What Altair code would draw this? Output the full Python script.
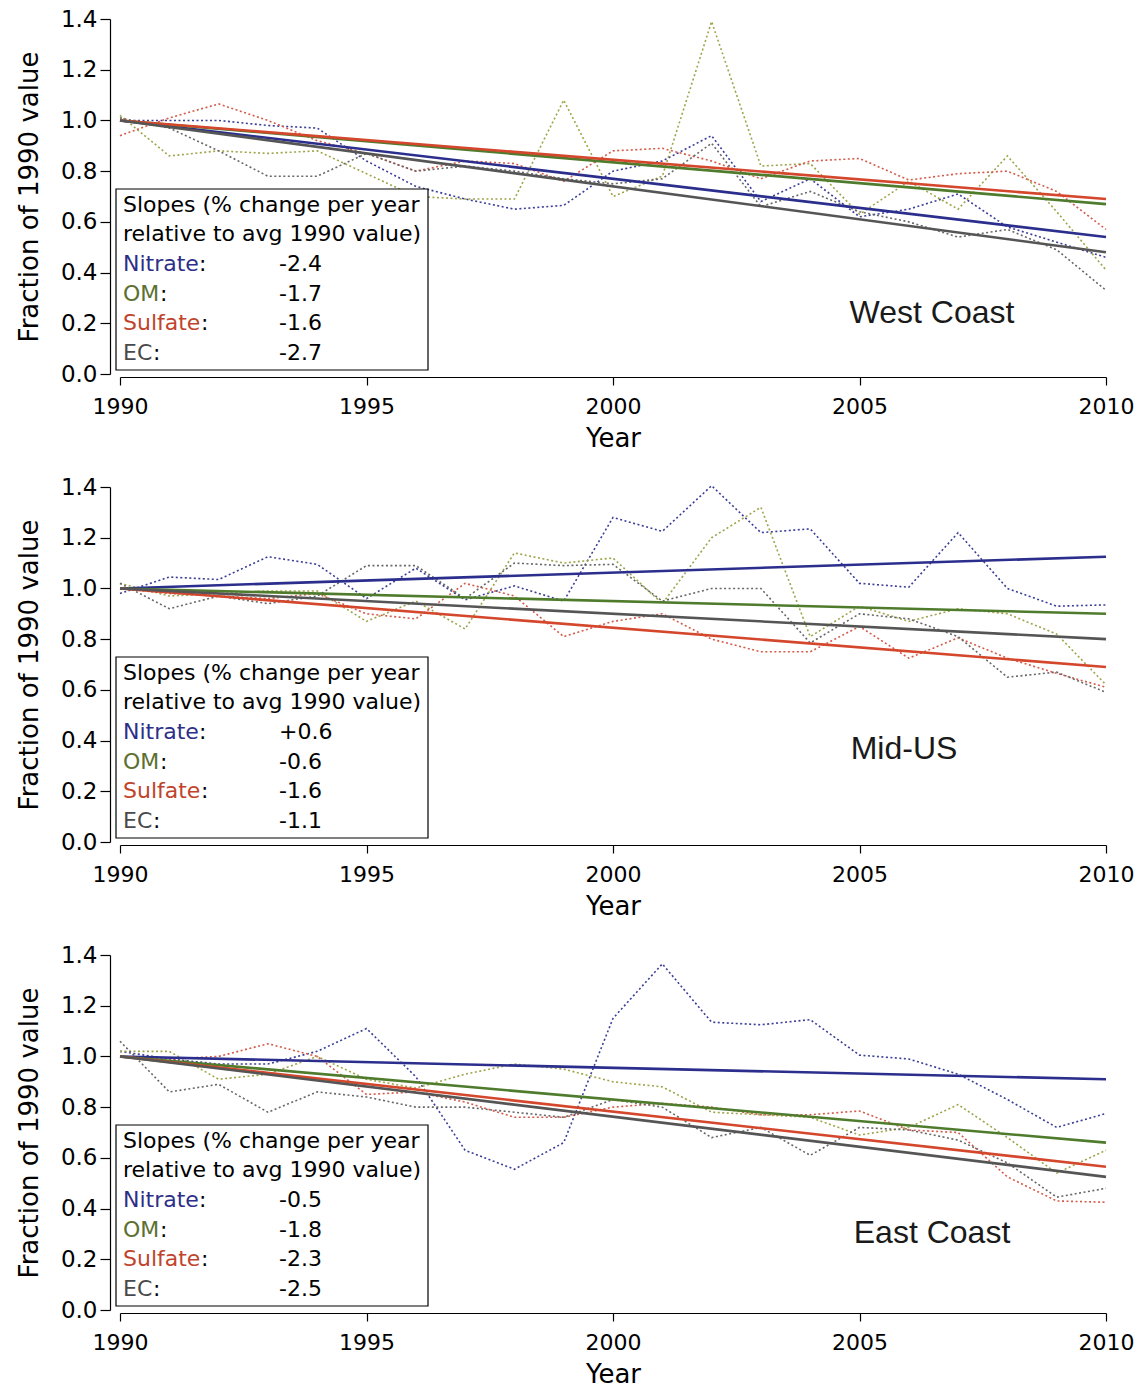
import altair as alt
import pandas as pd

# ---------------- data ----------------
years = list(range(1990, 2011))
species = ["Nitrate", "OM", "Sulfate", "EC"]
regions = ["West Coast", "Mid-US", "East Coast"]

# West Coast annual fractions of 1990 value (dotted lines)
west_nitrate = [1.00, 1.00, 1.00, 0.98, 0.97, 0.84, 0.74, 0.69, 0.65, 0.665, 0.80, 0.84, 0.94, 0.68, 0.77, 0.62, 0.65, 0.71, 0.58, 0.52, 0.46]
west_om = [1.02, 0.86, 0.88, 0.87, 0.88, 0.79, 0.70, 0.69, 0.69, 1.08, 0.70, 0.78, 1.39, 0.82, 0.83, 0.63, 0.76, 0.65, 0.86, 0.64, 0.41]
west_sulfate = [0.94, 1.01, 1.065, 1.00, 0.92, 0.87, 0.80, 0.84, 0.83, 0.76, 0.88, 0.89, 0.84, 0.77, 0.84, 0.85, 0.765, 0.79, 0.80, 0.72, 0.57]
west_ec = [1.01, 0.97, 0.88, 0.78, 0.78, 0.87, 0.80, 0.82, 0.80, 0.77, 0.75, 0.77, 0.91, 0.66, 0.72, 0.64, 0.60, 0.54, 0.57, 0.49, 0.33]

# Mid-US
mid_nitrate = [0.98, 1.045, 1.035, 1.125, 1.095, 0.96, 1.08, 0.955, 1.01, 0.95, 1.28, 1.225, 1.405, 1.22, 1.235, 1.02, 1.005, 1.22, 1.00, 0.93, 0.935]
mid_om = [1.02, 0.97, 0.98, 0.99, 0.99, 0.87, 0.95, 0.84, 1.14, 1.10, 1.12, 0.94, 1.20, 1.32, 0.81, 0.93, 0.87, 0.92, 0.90, 0.82, 0.62]
mid_sulfate = [1.00, 0.98, 0.97, 0.96, 0.98, 0.90, 0.88, 1.02, 0.97, 0.81, 0.87, 0.90, 0.80, 0.75, 0.75, 0.85, 0.725, 0.805, 0.725, 0.665, 0.61]
mid_ec = [1.02, 0.92, 0.97, 0.94, 0.97, 1.09, 1.09, 0.96, 1.10, 1.09, 1.095, 0.95, 1.00, 1.00, 0.785, 0.90, 0.88, 0.81, 0.65, 0.67, 0.59]

# East Coast
east_nitrate = [1.02, 0.99, 0.97, 0.97, 1.02, 1.11, 0.92, 0.63, 0.555, 0.66, 1.15, 1.365, 1.135, 1.125, 1.145, 1.005, 0.99, 0.93, 0.83, 0.72, 0.775]
east_om = [1.02, 1.02, 0.91, 0.93, 1.00, 0.91, 0.875, 0.93, 0.97, 0.95, 0.90, 0.88, 0.78, 0.77, 0.76, 0.69, 0.72, 0.81, 0.68, 0.54, 0.63]
east_sulfate = [1.00, 0.99, 1.00, 1.05, 1.00, 0.85, 0.86, 0.82, 0.76, 0.76, 0.80, 0.815, 0.80, 0.77, 0.77, 0.785, 0.71, 0.70, 0.525, 0.43, 0.425]
east_ec = [1.06, 0.86, 0.89, 0.78, 0.86, 0.84, 0.80, 0.80, 0.78, 0.76, 0.83, 0.80, 0.68, 0.72, 0.61, 0.72, 0.71, 0.67, 0.58, 0.445, 0.48]

# linear-fit trend lines: value at 1990 and at 2010 (Nitrate, OM, Sulfate, EC)
trend_years = [1990, 2010]
west_trend_start = [1.0, 1.0, 1.0, 1.0]
west_trend_end = [0.54, 0.67, 0.69, 0.48]
mid_trend_start = [1.0, 1.0, 1.0, 1.0]
mid_trend_end = [1.125, 0.90, 0.69, 0.80]
east_trend_start = [1.0, 1.0, 1.0, 1.0]
east_trend_end = [0.91, 0.66, 0.565, 0.525]

# slope annotations (% change per year)
west_slopes = ["-2.4", "-1.7", "-1.6", "-2.7"]
mid_slopes = ["+0.6", "-0.6", "-1.6", "-1.1"]
east_slopes = ["-0.5", "-1.8", "-2.3", "-2.5"]

x_ticks = [1990, 1995, 2000, 2005, 2010]
y_ticks = [0.0, 0.2, 0.4, 0.6, 0.8, 1.0, 1.2, 1.4]

# ---------------- styling ----------------
dot_colors = ["#3a3e98", "#9ea448", "#d35b49", "#676767"]
trend_colors = ["#2b2e8c", "#4f7b2c", "#d4472c", "#555555"]
text_colors = ["#2d2f88", "#5d7030", "#c0442c", "#4a4a4a"]
FONT = "DejaVu Sans"
W, H = 986, 355
name_widths = [76, 37, 78, 30]   # rendered width of each species name at 22px

one = pd.DataFrame({"k": [0]})

x_axis = alt.Axis(values=x_ticks, format="d", title="Year", tickSize=8, labelPadding=11,
                  titlePadding=8, offset=3, grid=False, labelFlush=False, labelFontSize=22)
y_axis = alt.Axis(values=y_ticks, format=".1f", title="Fraction of 1990 value", tickSize=10,
                  labelPadding=3, titlePadding=18, offset=10, grid=False, labelFontSize=23)


def txt(x, y, s, color="black", size=22, font=FONT, align="left"):
    return alt.Chart(one).mark_text(text=s, font=font, fontSize=size, color=color,
                                    align=align, baseline="middle").encode(
        x=alt.value(x), y=alt.value(y))


def panel(region, series, t_start, t_end, slopes, label_x, label_y):
    xenc = alt.X("year:Q", scale=alt.Scale(domain=[1990, 2010], nice=False, zero=False), axis=x_axis)
    yenc = alt.Y("value:Q", scale=alt.Scale(domain=[0, 1.4], nice=False), axis=y_axis)
    layers = []
    for vals, col in zip(series, dot_colors):
        d = pd.DataFrame({"year": years, "value": vals})
        layers.append(alt.Chart(d).mark_line(color=col, strokeWidth=1.6, strokeDash=[2, 2.5])
                      .encode(x=xenc, y=yenc))
    for s0, s1, col in zip(t_start, t_end, trend_colors):
        d = pd.DataFrame({"year": trend_years, "value": [s0, s1]})
        layers.append(alt.Chart(d).mark_line(color=col, strokeWidth=2.6).encode(x=xenc, y=yenc))
    layers.append(alt.Chart(one).mark_rect(fill="white", stroke="black", strokeWidth=1.2).encode(
        x=alt.value(-4), x2=alt.value(308), y=alt.value(170), y2=alt.value(351)))
    layers.append(txt(3, 186, "Slopes (% change per year"))
    layers.append(txt(3, 215, "relative to avg 1990 value)"))
    for i, (sp, tc, sl, nw) in enumerate(zip(species, text_colors, slopes, name_widths)):
        yy = 245 + i * 29.5
        layers.append(txt(3, yy, sp, color=tc))
        layers.append(txt(3 + nw, yy, ":"))
        layers.append(txt(159, yy, sl))
    layers.append(txt(label_x, label_y, region, size=32,
                      font="Liberation Sans", align="center", color="#1a1a1a"))
    return alt.layer(*layers).properties(width=W, height=H)


p1 = panel(regions[0], [west_nitrate, west_om, west_sulfate, west_ec], west_trend_start, west_trend_end, west_slopes, 812, 294)
p2 = panel(regions[1], [mid_nitrate, mid_om, mid_sulfate, mid_ec], mid_trend_start, mid_trend_end, mid_slopes, 784, 262)
p3 = panel(regions[2], [east_nitrate, east_om, east_sulfate, east_ec], east_trend_start, east_trend_end, east_slopes, 812, 278)

chart = alt.vconcat(p1, p2, p3, spacing=25).properties(
    padding={"left": 16, "top": 8, "right": 5, "bottom": 5}
).configure_view(stroke=None).configure_axis(
    domainColor="black", tickColor="black", domainWidth=1.2, tickWidth=1.2,
    labelFont=FONT, labelColor="black",
    titleFont=FONT, titleFontSize=26, titleFontWeight="normal", titleColor="black"
)

chart.save("out.html", embed_options={"renderer": "svg", "actions": False})
